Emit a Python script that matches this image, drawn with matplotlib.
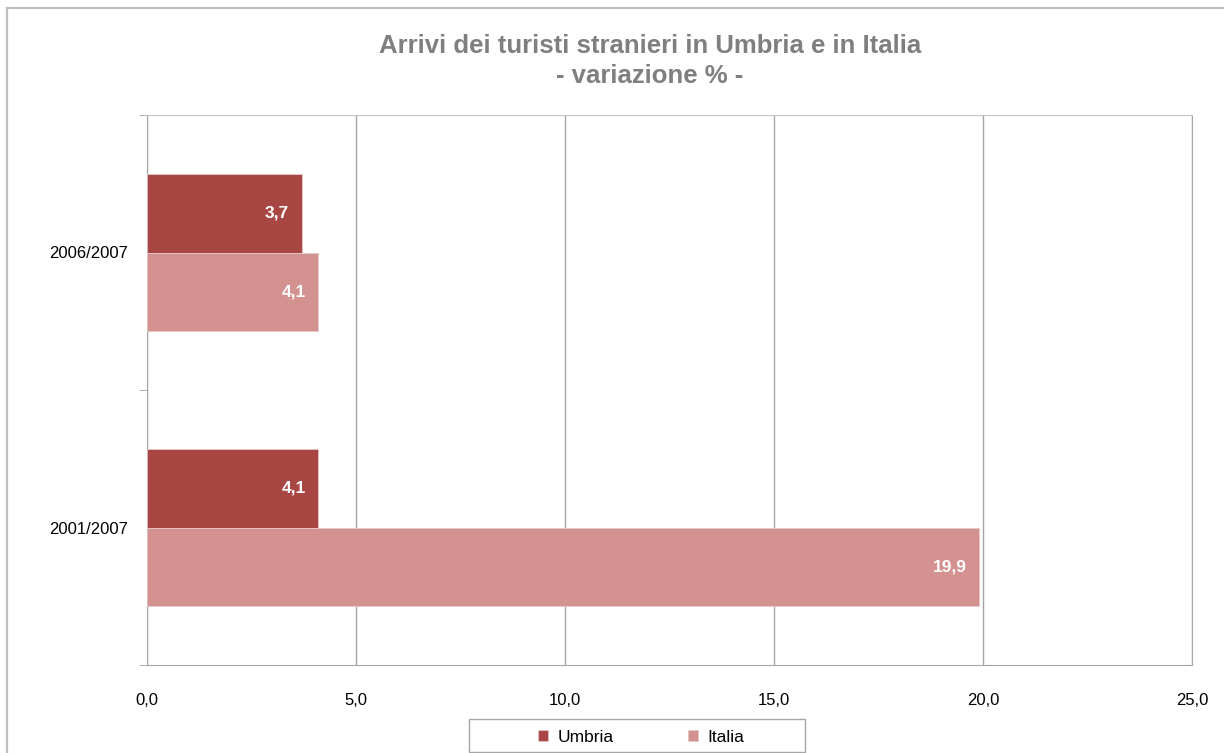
import matplotlib
matplotlib.use("Agg")
import matplotlib.pyplot as plt
from matplotlib.patches import Rectangle
import numpy as np

plt.rcParams['font.family'] = ['Liberation Sans', 'DejaVu Sans']

# data
periodi = ["2006/2007", "2001/2007"]
umbria = [3.7, 4.1]
italia = [4.1, 19.9]
serie = ["Umbria", "Italia"]
colori = ["#A84644", "#D39190"]
xticks = [0, 5, 10, 15, 20, 25]

W, H = 1224, 753
fig = plt.figure(figsize=(W / 100, H / 100), dpi=100)
ax = fig.add_axes([147 / W, 1 - 665 / H, (1192 - 147) / W, (665 - 115) / H])

y = np.arange(len(periodi))
h = 0.285
b1 = ax.barh(y - h / 2, umbria, height=h, color=colori[0], edgecolor="#E8C8C8", linewidth=0.6,
             label=serie[0], zorder=3)
b2 = ax.barh(y + h / 2, italia, height=h, color=colori[1], edgecolor="#E8C8C8", linewidth=0.6,
             label=serie[1], zorder=3)

# value labels inside the bar ends
for bars, vals in ((b1, umbria), (b2, italia)):
    for bar, v in zip(bars, vals):
        ax.annotate(f"{v:.1f}".replace(".", ","), (v, bar.get_y() + bar.get_height() / 2),
                    xytext=(-9, 0), textcoords="offset points", ha="right", va="center",
                    color="white", fontsize=12.5, fontweight="bold", zorder=4)

ax.set_xlim(0, 25)
ax.set_ylim(1.5, -0.5)
ax.set_xticks(xticks)
ax.set_xticklabels([f"{t:.1f}".replace(".", ",") for t in xticks], fontsize=12)
ax.set_yticks(y)
ax.set_yticklabels(periodi, fontsize=12)
ax.set_yticks([-0.5, 0.5, 1.5], minor=True)
ax.tick_params(axis="y", which="major", length=0, pad=14)
ax.tick_params(axis="y", which="minor", length=6, color="#A6A6A6")
ax.tick_params(axis="x", length=0, pad=20)

ax.grid(axis="x", color="#A6A6A6", linewidth=1, zorder=0)
for s in ax.spines.values():
    s.set_color("#A6A6A6")
ax.spines["top"].set_color("#C8C8C8")

fig.text(0.531, 1 - 61 / H, "Arrivi dei turisti stranieri in Umbria e in Italia\n- variazione % -",
         ha="center", va="center", fontsize=18.5, fontweight="bold", color="#7F7F7F",
         linespacing=1.3)

# legend with its own box below the plot
leg = fig.legend(loc="center", bbox_to_anchor=(641 / W, 1 - 737 / H), ncol=2, fontsize=12.5,
                 frameon=False, handlelength=0.6, handleheight=0.6, handletextpad=0.5,
                 columnspacing=4.3)
fig.patches.append(Rectangle((469 / W, 1 - 752 / H), (805 - 469) / W, 33 / H,
                             transform=fig.transFigure, fill=False, edgecolor="#A6A6A6",
                             linewidth=1))

# outer chart border
fig.patches.append(Rectangle((7 / W, -0.05), 1.1, 1 - 8 / H + 0.05, transform=fig.transFigure,
                             fill=False, edgecolor="#C0C0C0", linewidth=1.6))

fig.savefig("out.png", dpi=100)
